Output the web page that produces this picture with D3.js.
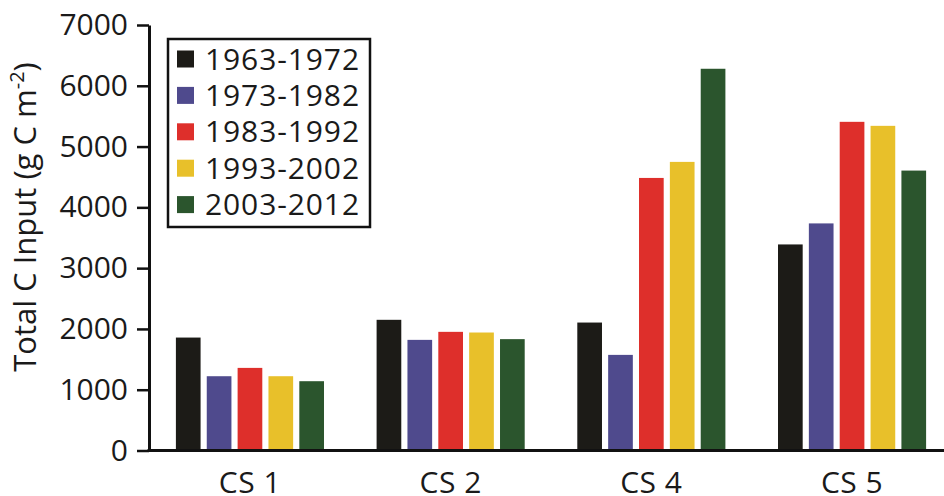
<!DOCTYPE html>
<html>
<head>
<meta charset="utf-8">
<script src="https://cdn.jsdelivr.net/npm/d3@7"></script>
<style>
  html, body { margin: 0; padding: 0; background: #ffffff; }
  svg { display: block; font-family: "Open Sans", sans-serif; }
</style>
</head>
<body>
<svg id="chart" width="944" height="496"></svg>
<script>
// Sites and decade periods
const sites = ["CS 1", "CS 2", "CS 4", "CS 5"];
const periods = ["1963-1972", "1973-1982", "1983-1992", "1993-2002", "2003-2012"];
const periodColors = ["#1c1b17", "#4f4a8d", "#de2f2b", "#e8c02a", "#2b552d"];

// Total C input (g C m^-2) per site, one array per period
const v1963 = [1858, 2150, 2105, 3390];
const v1973 = [1222, 1820, 1573, 3736];
const v1983 = [1359, 1952, 4484, 5407];
const v1993 = [1222, 1941, 4748, 5341];
const v2003 = [1140, 1832, 6280, 4605];
const seriesValues = [v1963, v1973, v1983, v1993, v2003];

const yTicks = [0, 1000, 2000, 3000, 4000, 5000, 6000, 7000];

const svg = d3.select("#chart");
const axisX = 149;
const baseY = 450.5;

const y = d3.scaleLinear().domain([0, 7000]).range([baseY, 25]);

const x0 = d3.scaleBand().domain(sites).range([149.6, 952.4]).padding(0);
const x1 = d3.scaleBand().domain(periods)
  .range([26.3, x0.bandwidth() - 26.3])
  .paddingInner(0.2).paddingOuter(0);

// Bars
const groups = svg.append("g").selectAll("g")
  .data(sites)
  .join("g")
  .attr("transform", d => `translate(${x0(d)},0)`);

groups.selectAll("rect")
  .data((site, i) => periods.map((p, j) => ({ p, j, v: seriesValues[j][i] })))
  .join("rect")
  .attr("x", d => x1(d.p))
  .attr("width", x1.bandwidth())
  .attr("y", d => y(d.v))
  .attr("height", d => baseY - y(d.v))
  .attr("fill", d => periodColors[d.j]);

// Y axis
const yAxis = svg.append("g")
  .attr("transform", `translate(${axisX},0)`)
  .call(d3.axisLeft(y).tickValues(yTicks).tickFormat(d3.format("d"))
    .tickSize(12).tickPadding(9).tickSizeOuter(0));
yAxis.select(".domain").attr("stroke", "#111").attr("stroke-width", 3);
yAxis.selectAll(".tick line").attr("stroke", "#111").attr("stroke-width", 2.5);
yAxis.selectAll(".tick text")
  .attr("fill", "#1a1a1a")
  .style("font-size", "30px")
  .style("font-family", "'Open Sans', sans-serif");

// X axis (baseline with site labels)
const xAxis = svg.append("g")
  .attr("transform", `translate(0,${baseY})`)
  .call(d3.axisBottom(x0).tickSize(0).tickPadding(21).tickSizeOuter(0));
xAxis.select(".domain").attr("stroke", "#111").attr("stroke-width", 3)
  .attr("d", `M${axisX - 1.5},0H944`);
xAxis.selectAll(".tick text")
  .attr("fill", "#1a1a1a")
  .style("font-size", "30px")
  .style("letter-spacing", "0.5px")
  .style("font-family", "'Open Sans', sans-serif");

// Y axis title
const title = svg.append("text")
  .attr("transform", `translate(36,217) rotate(-90)`)
  .attr("text-anchor", "middle")
  .attr("fill", "#1a1a1a")
  .style("font-size", "31px");
title.append("tspan").text("Total C Input (g C m");
title.append("tspan").attr("dy", -12).style("font-size", "20px").text("-2");
title.append("tspan").attr("dy", 12).text(")");

// Legend
const legend = svg.append("g");
legend.append("rect")
  .attr("x", 168).attr("y", 39)
  .attr("width", 202).attr("height", 188)
  .attr("fill", "#ffffff")
  .attr("stroke", "#111").attr("stroke-width", 2.5);

const rows = legend.selectAll("g.row")
  .data(periods)
  .join("g")
  .attr("class", "row")
  .attr("transform", (d, i) => `translate(177,${59 + i * 36.4})`);
rows.append("rect")
  .attr("x", 0).attr("y", -8.5)
  .attr("width", 17).attr("height", 17)
  .attr("fill", (d, i) => periodColors[i]);
rows.append("text")
  .attr("x", 28).attr("y", 0)
  .attr("dy", "0.35em")
  .attr("fill", "#1a1a1a")
  .style("font-size", "30px")
  .style("letter-spacing", "0.9px")
  .text(d => d);
</script>
</body>
</html>
